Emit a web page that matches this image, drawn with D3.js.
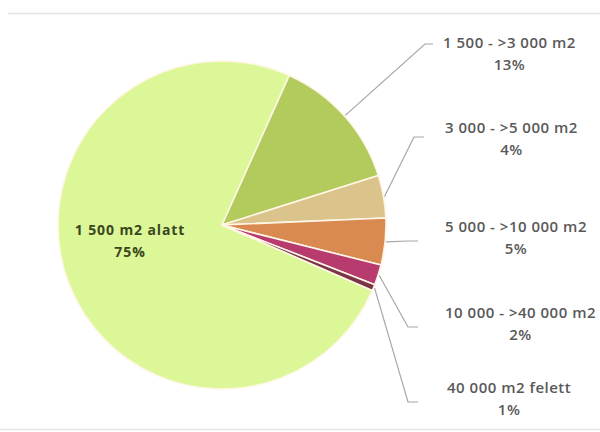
<!DOCTYPE html>
<html>
<head>
<meta charset="utf-8">
<script src="https://d3js.org/d3.v7.min.js"></script>
<style>
  body { margin: 0; background: #fff; }
  svg { display: block; font-family: "Open Sans", sans-serif; }
</style>
</head>
<body>
<svg id="chart" width="600" height="432"></svg>
<script>
// data (share of sites per floor-area band)
var categories = ["1 500 m2 alatt", "1 500 - >3 000 m2", "3 000 - >5 000 m2",
                  "5 000 - >10 000 m2", "10 000 - >40 000 m2", "40 000 m2 felett"];
var shares = [75.2, 13.4, 4.2, 4.6, 2.0, 0.6];
var colors = ["#dcf797", "#b3ca5d", "#dbc48b", "#d98a50", "#b73b6f", "#7a3446"];

// layout
var cx = 222, cy = 225, R = 164;
var startDeg = 113.5;
// leader end point + text top-left for the outside labels (index 1..5)
var outside = [
  null,
  {ex: 433, ey: 44, elbow: 425, tx: 443, ty: 43},
  {ex: 424, ey: 137, elbow: 414, tx: 445, ty: 128},
  {ex: 418, ey: 241, elbow: 408, tx: 445, ty: 227},
  {ex: 418, ey: 327, elbow: 408, tx: 445, ty: 313},
  {ex: 418, ey: 402, elbow: 408, tx: 447, ty: 388}
];

var svg = d3.select("#chart");

// frame lines
svg.append("line").attr("x1", 8).attr("x2", 600).attr("y1", 13.5).attr("y2", 13.5)
  .attr("stroke", "#e2e2e2").attr("stroke-width", 1.5);
svg.append("line").attr("x1", 0).attr("x2", 600).attr("y1", 429.5).attr("y2", 429.5)
  .attr("stroke", "#e6e6e6").attr("stroke-width", 1.5);

var pie = d3.pie().sort(null).value(function(d){ return d; })
  .startAngle(startDeg * Math.PI / 180)
  .endAngle(startDeg * Math.PI / 180 + 2 * Math.PI);
var arcs = pie(shares);
var arc = d3.arc().innerRadius(0).outerRadius(R);
var pct = function(v){ return Math.round(v / d3.sum(shares) * 100) + "%"; };

var g = svg.append("g").attr("transform", "translate(" + cx + "," + cy + ")");
g.selectAll("path").data(arcs).enter().append("path")
  .attr("d", arc)
  .attr("fill", function(d, i){ return colors[i]; })
  .attr("stroke", "#fff6e6")
  .attr("stroke-width", 1.6)
  .attr("stroke-linejoin", "round");

// inside label for the big slice
var inLbl = svg.append("text").attr("text-anchor", "middle")
  .attr("fill", "#3b4620").attr("font-size", 14).attr("font-weight", 700)
  .attr("letter-spacing", "0.9px");
inLbl.append("tspan").attr("x", 130).attr("y", 235).text(categories[0]);
inLbl.append("tspan").attr("x", 130).attr("y", 257).text(pct(shares[0]));

// outside labels with leader lines
arcs.forEach(function(d, i) {
  if (i === 0) return;
  var o = outside[i];
  var mid = (d.startAngle + d.endAngle) / 2;
  var sx = cx + (R + 1) * Math.sin(mid), sy = cy - (R + 1) * Math.cos(mid);
  svg.append("path")
    .attr("d", d3.line()([[sx, sy], [o.elbow, o.ey], [o.ex, o.ey]]))
    .attr("fill", "none").attr("stroke", "#a6a6a6").attr("stroke-width", 1.2);

  var t = svg.append("text").attr("text-anchor", "middle")
    .attr("fill", "#595959").attr("font-size", 15).attr("font-weight", 600)
    .attr("letter-spacing", "0.5px");
  var l1 = t.append("tspan").attr("y", o.ty + 5).text(categories[i]);
  var w = l1.node().getComputedTextLength();
  var mx = o.tx + w / 2;
  l1.attr("x", mx);
  t.append("tspan").attr("x", mx).attr("y", o.ty + 27).text(pct(shares[i]));
});
</script>
</body>
</html>
